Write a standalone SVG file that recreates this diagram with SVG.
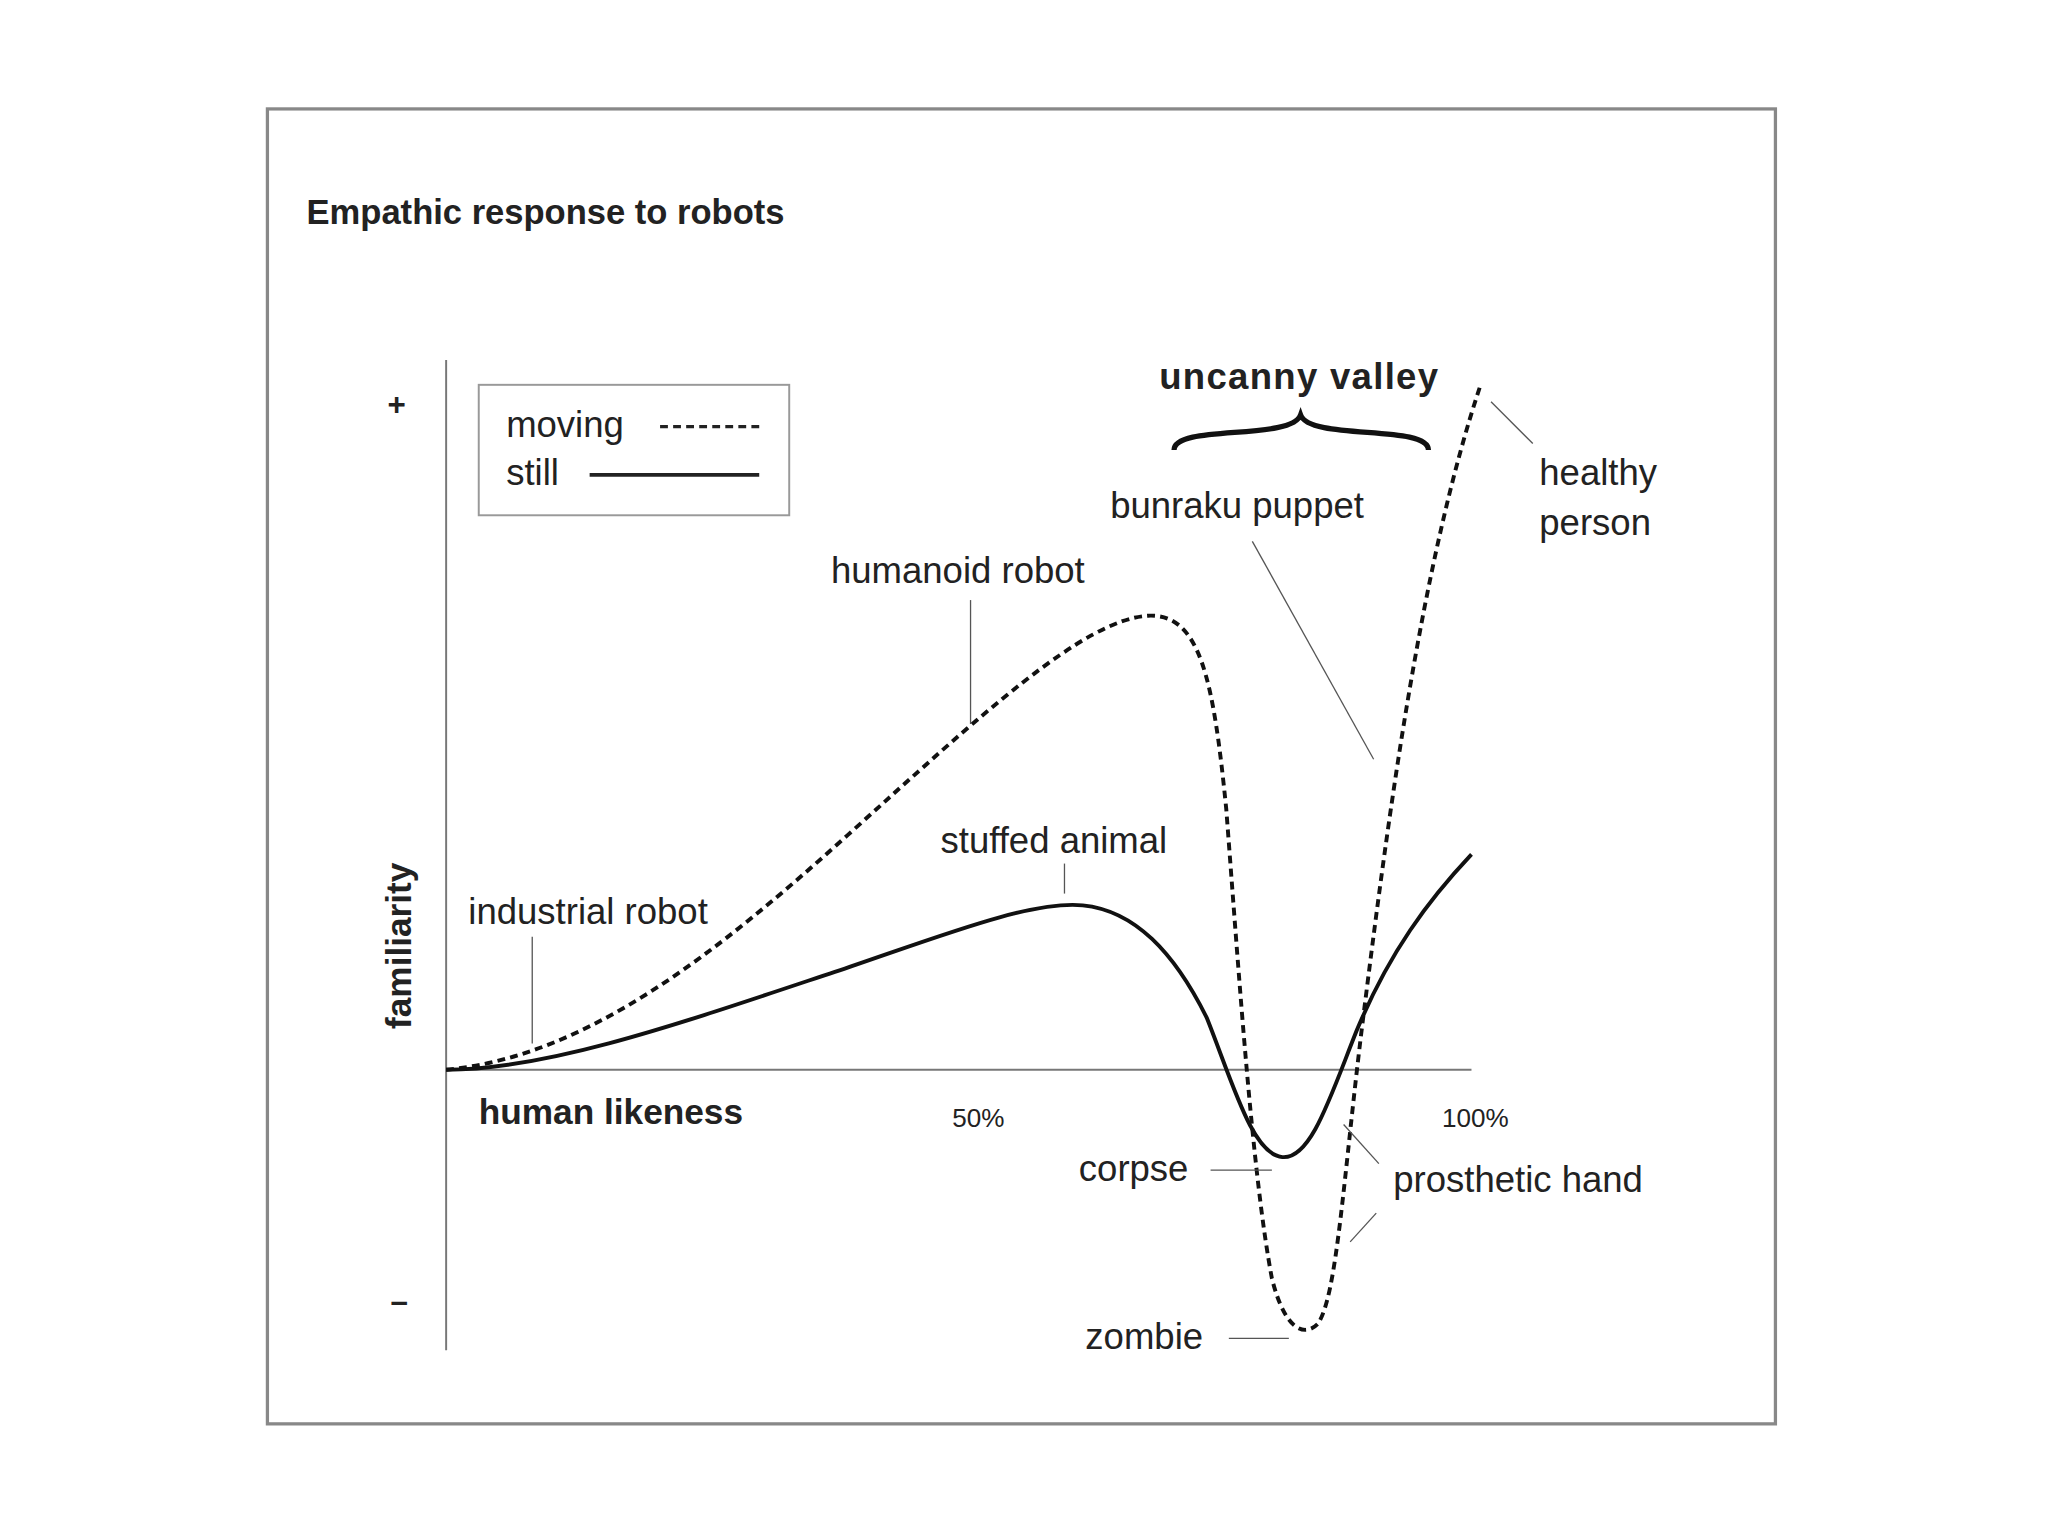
<svg xmlns="http://www.w3.org/2000/svg" width="2048" height="1536" viewBox="0 0 2048 1536">
<style>
text{font-family:"Liberation Sans",Arial,sans-serif;fill:#222}
.l{font-size:28px}
.b{font-weight:bold}
.lead{stroke:#555;stroke-width:1;fill:none}
.ax{stroke:#777;stroke-width:1.5;fill:none}
</style>
<rect width="2048" height="1536" fill="#fff"/>
<g transform="scale(1.3045)">
<rect x="205" y="83.5" width="1156" height="1008" fill="none" stroke="#888" stroke-width="2.5"/>
<text x="235" y="172" font-size="26.5" class="b" fill="#000">Empathic response to robots</text>
<g id="axes">
<line class="ax" x1="342" y1="276" x2="342" y2="1035"/>
<line class="ax" x1="342" y1="820" x2="1128" y2="820"/>
<text x="304" y="318" font-size="24" text-anchor="middle" class="b">+</text>
<text x="306" y="1006" font-size="24" text-anchor="middle" class="b">–</text>
<text transform="translate(315,725) rotate(-90)" text-anchor="middle" font-size="27" class="b">familiarity</text>
<text x="367" y="862" font-size="27" class="b">human likeness</text>
<text x="750" y="864" font-size="20" text-anchor="middle">50%</text>
<text x="1131" y="864" font-size="20" text-anchor="middle">100%</text>
</g>
<g id="legend">
<rect x="367" y="295" width="238" height="100" fill="#fff" stroke="#999" stroke-width="1.5"/>
<text x="388" y="335" class="l">moving</text>
<line x1="506" y1="327" x2="583" y2="327" stroke="#222" stroke-width="2.5" stroke-dasharray="6,4"/>
<text x="388" y="372" class="l">still</text>
<line x1="452" y1="364" x2="582" y2="364" stroke="#222" stroke-width="3"/>
</g>
<g id="curves">
<path d="M342,820 C420,820 520,785 640,745 C720,718 790,690 830,694 C870,698 900,730 925,780 C945,830 960,885 983,887 C1005,889 1020,840 1040,790 C1065,730 1095,690 1128,655" fill="none" stroke="#111" stroke-width="3"/>
<path d="M342,820 C450,810 550,730 650,640 C750,550 830,475 880,472 C920,470 930,520 940,620 C950,750 960,900 975,980 C985,1020 1000,1025 1010,1015 C1025,995 1030,900 1045,780 C1065,620 1090,430 1135,295" fill="none" stroke="#111" stroke-width="3" stroke-dasharray="6,4"/>
</g>
<g id="valley">
<text x="996" y="298" font-size="28" text-anchor="middle" class="b" letter-spacing="1">uncanny valley</text>
<path d="M900,345 C900,325 990,338 997,318 C1004,338 1095,325 1095,345" fill="none" stroke="#111" stroke-width="4"/>
</g>
<g id="labels">
<text x="1180" y="372" class="l">healthy</text>
<text x="1180" y="410" class="l">person</text>
<line class="lead" x1="1143" y1="308" x2="1175" y2="340"/>
<text x="851" y="397" class="l">bunraku puppet</text>
<line class="lead" x1="960" y1="415" x2="1053" y2="582"/>
<text x="637" y="447" class="l">humanoid robot</text>
<line class="lead" x1="744" y1="460" x2="744" y2="555"/>
<text x="721" y="654" class="l">stuffed animal</text>
<line class="lead" x1="816" y1="662" x2="816" y2="685"/>
<text x="359" y="708" class="l">industrial robot</text>
<line class="lead" x1="408" y1="718" x2="408" y2="800"/>
<text x="827" y="905" class="l">corpse</text>
<line class="lead" x1="928" y1="897" x2="975" y2="897"/>
<text x="1068" y="914" class="l">prosthetic hand</text>
<line class="lead" x1="1030" y1="862" x2="1057" y2="892"/>
<line class="lead" x1="1035" y1="952" x2="1055" y2="930"/>
<text x="832" y="1034" class="l">zombie</text>
<line class="lead" x1="942" y1="1026" x2="988" y2="1026"/>
</g>
</g>
</svg>
